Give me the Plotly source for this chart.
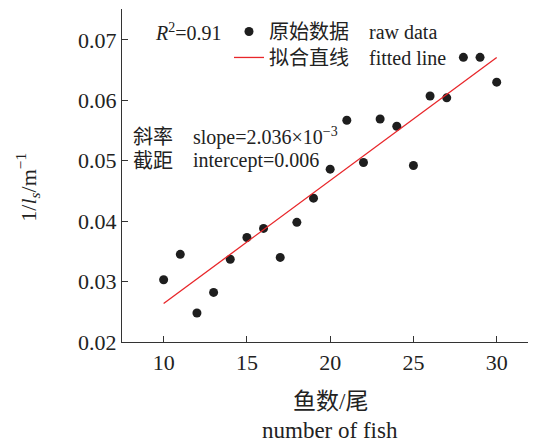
import plotly.graph_objects as go

# ---- data ----
fish_counts = [10, 11, 12, 13, 14, 15, 16, 17, 18, 19, 20,
               21, 22, 23, 24, 25, 26, 27, 28, 29, 30]
inv_ls = [0.0303, 0.0345, 0.0248, 0.0282, 0.0337, 0.0373, 0.0388, 0.0340,
          0.0398, 0.0438, 0.0486, 0.0567, 0.0497, 0.0569, 0.0557, 0.0492,
          0.0607, 0.0604, 0.0671, 0.0671, 0.0630]
fit_slope = 2.036e-3
fit_intercept = 0.006
fit_x = [10, 30]
fit_y = [fit_intercept + fit_slope * v for v in fit_x]
r_squared = 0.91
x_ticks = [10, 15, 20, 25, 30]
y_ticks = [0.02, 0.03, 0.04, 0.05, 0.06, 0.07]

SERIF = "Liberation Serif, Times New Roman, Noto Sans CJK SC, serif"
NB = "\u00a0"
TXT = "#222222"

# page body has an 8px default margin; compensate
OFF = 8
W, H = 536 - OFF, 443 - OFF
ML, MR, MT, MB = 122 - OFF, 0, 9 - OFF, H - (342.5 - OFF)
pw, ph = W - ML - MR, H - MT - MB

def px(xp):
    return (xp - OFF - ML) / pw

def py(yp):
    return (H - MB - (yp - OFF)) / ph

fig = go.Figure()
fig.add_trace(go.Scatter(
    x=fish_counts, y=inv_ls, mode="markers",
    marker=dict(size=9, color="#1e1e1e"),
    name="原始数据" + NB * 4 + "raw data", legend="legend",
))
fig.add_trace(go.Scatter(
    x=fit_x, y=fit_y, mode="lines",
    line=dict(color="#e8262a", width=1.3),
    name="拟合直线" + NB * 4 + "fitted line", legend="legend2",
))

axis_common = dict(
    showline=True, linecolor="#333333", linewidth=1.3,
    ticks="inside", ticklen=6, tickwidth=1.2, tickcolor="#333333",
    showgrid=False, zeroline=False, mirror=False,
    tickfont=dict(family=SERIF, size=22, color=TXT),
)

leg_common = dict(
    xanchor="left", yanchor="top",
    bgcolor="rgba(0,0,0,0)", borderwidth=0,
    font=dict(family=SERIF, size=20, color=TXT),
    itemwidth=30,
)

fig.update_layout(
    width=W, height=H,
    margin=dict(l=ML, r=MR, t=MT, b=MB),
    paper_bgcolor="white", plot_bgcolor="white",
    showlegend=True,
    legend=dict(x=px(229), y=py(12), **leg_common),
    legend2=dict(x=px(229), y=py(38), **leg_common),
    xaxis=dict(range=[7.5, 32.36], tickvals=x_ticks, **axis_common),
    yaxis=dict(range=[0.02, 0.0751], tickvals=y_ticks,
               tickformat=".2f", **axis_common),
)

ann_font = dict(family=SERIF, size=20, color=TXT)
annotations = [
    dict(text="<i>R</i><sup>2</sup>=%.2f" % r_squared, x=px(153), y=py(32),
         xanchor="left", yanchor="middle", font=ann_font),
    dict(text="斜率", x=px(131), y=py(137), xanchor="left", yanchor="middle", font=ann_font),
    dict(text="截距", x=px(131), y=py(161), xanchor="left", yanchor="middle", font=ann_font),
    dict(text="slope=%.3f×10<sup>−3</sup>" % (fit_slope * 1e3), x=px(191), y=py(137),
         xanchor="left", yanchor="middle", font=ann_font),
    dict(text="intercept=%.3f" % fit_intercept, x=px(191), y=py(161),
         xanchor="left", yanchor="middle", font=ann_font),
    dict(text="鱼数/尾", x=px(330), y=py(402), xanchor="center", yanchor="middle",
         font=dict(family=SERIF, size=23, color=TXT)),
    dict(text="number of fish", x=px(330), y=py(431), xanchor="center", yanchor="middle",
         font=dict(family=SERIF, size=23, color=TXT)),
    dict(text="1/<i>l</i><sub><i>s</i></sub>/m<sup>−1</sup>", x=px(28), y=py(188),
         xanchor="center", yanchor="middle", textangle=-90,
         font=dict(family=SERIF, size=22, color=TXT)),
]
for a in annotations:
    a.update(xref="paper", yref="paper", showarrow=False)
fig.update_layout(annotations=annotations)

fig.write_html("out.html")
